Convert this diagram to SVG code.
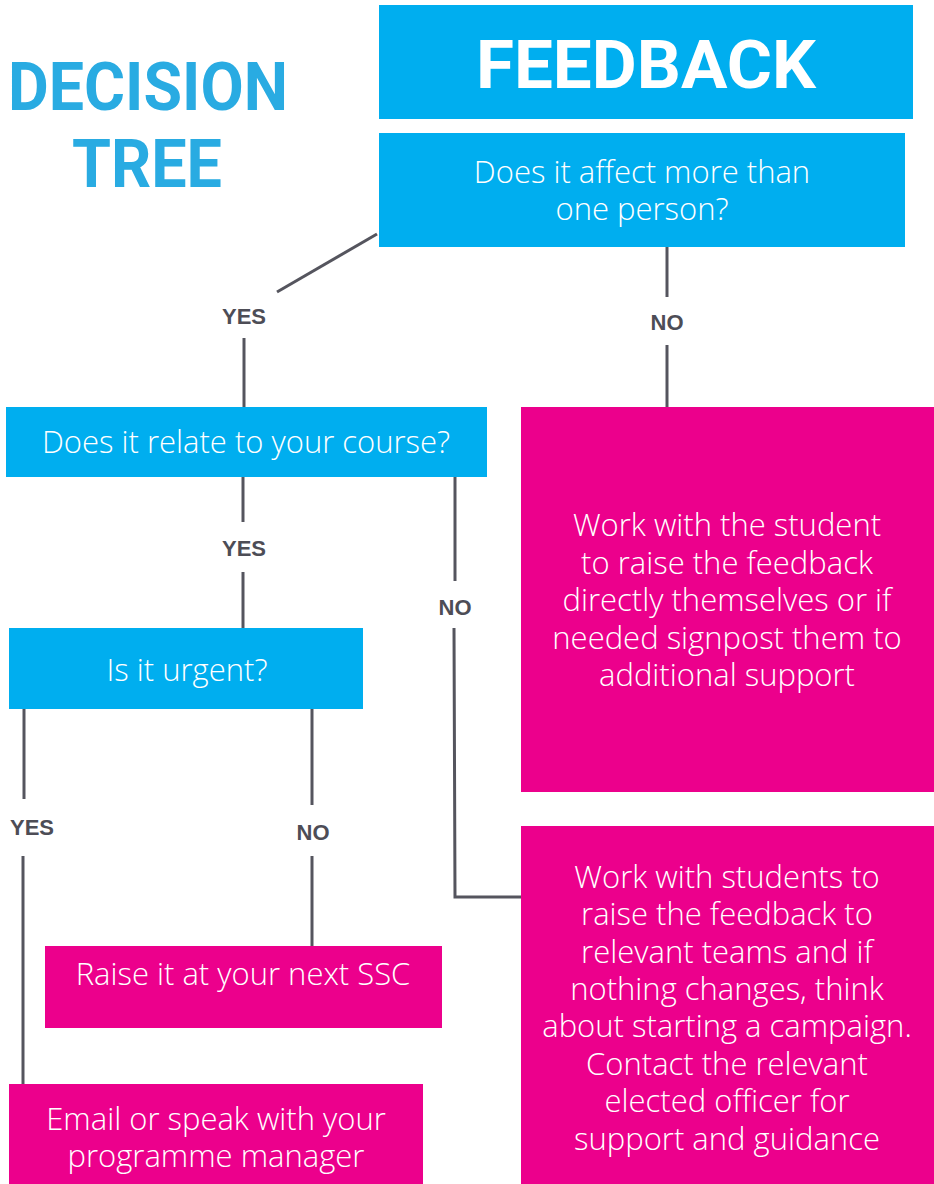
<svg xmlns="http://www.w3.org/2000/svg" width="934" height="1184" viewBox="0 0 934 1184">
<style>
.blue{fill:#00aeef}
.pink{fill:#ec008c}
.t{font-family:"Open Sans","Liberation Sans",sans-serif;font-weight:300;font-size:31px;fill:#ffffff;text-anchor:middle}
.lbl{font-family:"Liberation Sans",Arial,sans-serif;font-weight:700;font-size:22px;fill:#4d4d56;text-anchor:middle}
.title{font-family:Roboto,"Liberation Sans",sans-serif;font-weight:700;font-size:66px;fill:#29abe2}
.ln{stroke:#55555e;stroke-width:3;fill:none}
</style>
<rect width="934" height="1184" fill="#ffffff"/>
<g id="title">
<text class="title" x="8" y="110" textLength="280" lengthAdjust="spacingAndGlyphs">DECISION</text>
<text class="title" x="72" y="187" textLength="150" lengthAdjust="spacingAndGlyphs">TREE</text>
</g>
<g id="connectors">
<line class="ln" x1="377" y1="234" x2="277" y2="292"/>
<line class="ln" x1="244" y1="338" x2="244" y2="407"/>
<line class="ln" x1="667" y1="247" x2="667" y2="297"/>
<line class="ln" x1="667" y1="345" x2="667" y2="407"/>
<line class="ln" x1="243" y1="477" x2="243" y2="522"/>
<line class="ln" x1="243" y1="572" x2="243" y2="628"/>
<line class="ln" x1="455" y1="477" x2="455" y2="581"/>
<polyline class="ln" points="454,628 455,897 521,897"/>
<line class="ln" x1="24" y1="709" x2="24" y2="799"/>
<line class="ln" x1="23" y1="856" x2="23" y2="1084"/>
<line class="ln" x1="312" y1="709" x2="312" y2="805"/>
<line class="ln" x1="312" y1="856" x2="312" y2="946"/>
<text class="lbl" x="244" y="324">YES</text>
<text class="lbl" x="667" y="330">NO</text>
<text class="lbl" x="244" y="556">YES</text>
<text class="lbl" x="455" y="615">NO</text>
<text class="lbl" x="32" y="835">YES</text>
<text class="lbl" x="313" y="840">NO</text>
</g>
<g id="feedback">
<rect class="blue" x="379" y="5" width="534" height="114"/>
<text x="646" y="88" font-family="Roboto,'Liberation Sans',sans-serif" font-weight="700" font-size="66" fill="#ffffff" text-anchor="middle" textLength="340" lengthAdjust="spacingAndGlyphs">FEEDBACK</text>
</g>
<g id="q1">
<rect class="blue" x="379" y="133" width="526" height="114"/>
<text class="t" x="642" y="183">Does it affect more than</text>
<text class="t" x="642" y="220">one person?</text>
</g>
<g id="q2">
<rect class="blue" x="6" y="407" width="481" height="70"/>
<text class="t" x="246" y="453">Does it relate to your course?</text>
</g>
<g id="q3">
<rect class="blue" x="9" y="628" width="354" height="81"/>
<text class="t" x="187" y="681">Is it urgent?</text>
</g>
<g id="a1">
<rect class="pink" x="521" y="407" width="413" height="385"/>
<text class="t" x="727" y="536">Work with the student</text>
<text class="t" x="727" y="574">to raise the feedback</text>
<text class="t" x="727" y="611">directly themselves or if</text>
<text class="t" x="727" y="649">needed signpost them to</text>
<text class="t" x="727" y="686">additional support</text>
</g>
<g id="a2">
<rect class="pink" x="521" y="826" width="413" height="358"/>
<text class="t" x="727" y="888">Work with students to</text>
<text class="t" x="727" y="925">raise the feedback to</text>
<text class="t" x="727" y="963">relevant teams and if</text>
<text class="t" x="727" y="1000">nothing changes, think</text>
<text class="t" x="727" y="1037">about starting a campaign.</text>
<text class="t" x="727" y="1075">Contact the relevant</text>
<text class="t" x="727" y="1112">elected officer for</text>
<text class="t" x="727" y="1150">support and guidance</text>
</g>
<g id="a3">
<rect class="pink" x="45" y="946" width="397" height="82"/>
<text class="t" x="243" y="985">Raise it at your next SSC</text>
</g>
<g id="a4">
<rect class="pink" x="9" y="1084" width="414" height="100"/>
<text class="t" x="216" y="1130">Email or speak with your</text>
<text class="t" x="216" y="1167">programme manager</text>
</g>
</svg>
